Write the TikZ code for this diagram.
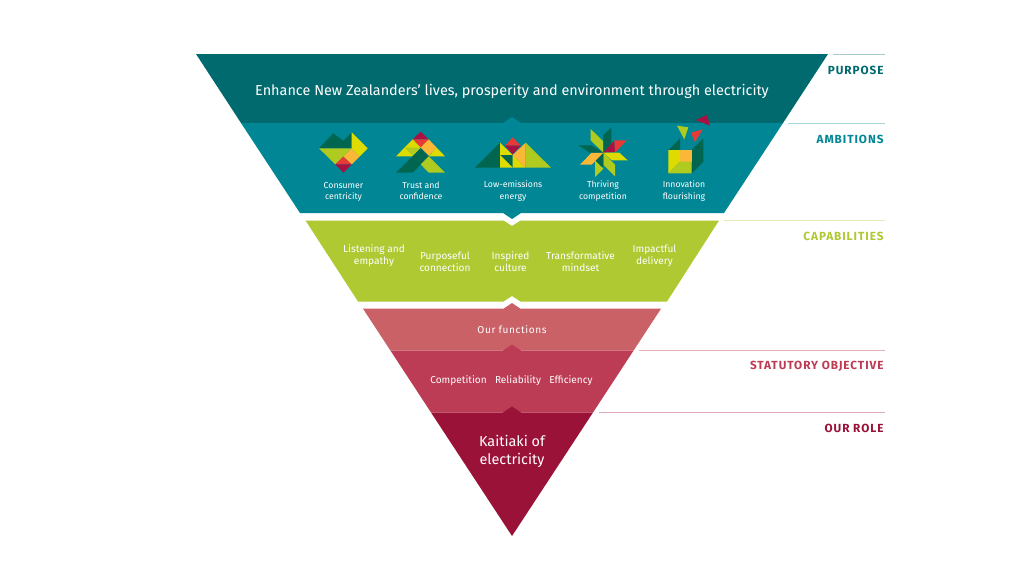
\documentclass[tikz,border=0pt]{standalone}
\usepackage{fontspec}
\setmainfont{Fira Sans}
\newfontfamily\headfont{Fira Sans}[UprightFont=* Bold,LetterSpace=8]
\newfontfamily\spacedfont{Fira Sans}[LetterSpace=6]
\definecolor{cPurpose}{HTML}{006A6F}
\definecolor{cAmb}{HTML}{008694}
\definecolor{cCap}{HTML}{AFC932}
\definecolor{cFun}{HTML}{C96167}
\definecolor{cStat}{HTML}{BC3B55}
\definecolor{cRole}{HTML}{9B1239}
\definecolor{iDark}{HTML}{00664F}
\definecolor{iLime}{HTML}{B0CB1F}
\definecolor{iYel}{HTML}{DDDB00}
\definecolor{iOra}{HTML}{FBB737}
\definecolor{iRed}{HTML}{E73A37}
\definecolor{iCrim}{HTML}{A81242}
\tikzset{
  iconlabel/.style={text=white,align=center,font=\fontsize{8.7}{11.3}\selectfont},
  caplabel/.style={text=white,align=center,font=\fontsize{10.1}{12.2}\selectfont},
  midlabel/.style={text=white,align=center,font=\fontsize{10.1}{12}\selectfont},
  biglabel/.style={text=white,align=center,font=\fontsize{14.42}{17.5}\selectfont},
  sidelabel/.style={anchor=east,font=\fontsize{11.75}{12}\headfont},
  tick/.style={line width=0.8pt},
}
\begin{document}
\begin{tikzpicture}[x=1pt,y=-1pt]
\useasboundingbox (0,0) rectangle (1024,576);
\fill[white] (0,0) rectangle (1024,576);
% bands
\fill[cPurpose] (196,54) -- (828,54) -- (783,123) -- (241,123) -- cycle;
\fill[cAmb] (241,123) -- (503,123) -- (512,117) -- (521,123) -- (783,123) -- (724,213) -- (521,213) -- (512,219) -- (503,213) -- (300,213) -- cycle;
\fill[cCap] (305.5,220.5) -- (503.5,220.5) -- (512,226) -- (520.5,220.5) -- (719,220.5) -- (667,301.5) -- (520.5,301.5) -- (512,296) -- (503.5,301.5) -- (358,301.5) -- cycle;
\fill[cFun] (363,308.7) -- (503.5,308.7) -- (512,303) -- (520.5,308.7) -- (661,308.7) -- (633.6,350.5) -- (390.4,350.5) -- cycle;
\fill[cStat] (390.4,350.5) -- (503,350.5) -- (512,344.5) -- (521,350.5) -- (633.6,350.5) -- (593,412.5) -- (431,412.5) -- cycle;
\fill[cRole] (431,412.5) -- (503,412.5) -- (512,406.5) -- (521,412.5) -- (593,412.5) -- (512,536) -- cycle;
% side rules
\draw[tick,cPurpose!35] (833,54.5) -- (885,54.5);
\draw[tick,cAmb!35] (788,123.5) -- (885,123.5);
\draw[tick,cCap!35] (724,220.5) -- (885,220.5);
\draw[tick,cStat!40] (639,350.5) -- (885,350.5);
\draw[tick,cRole!35] (599,412.5) -- (885,412.5);
% side labels
\node[sidelabel,text=cPurpose] (lPurpose) at (887,70.8) {PURPOSE};
\node[sidelabel,text=cAmb] (lAmb) at (887,139.8) {AMBITIONS};
\node[sidelabel,text=cCap] (lCap) at (887,236.8) {CAPABILITIES};
\node[sidelabel,text=cStat] (lStat) at (887,366.8) {STATUTORY OBJECTIVE};
\node[sidelabel,text=cRole] (lRole) at (887,428.8) {OUR ROLE};
% main text
\node[biglabel] (tPurpose) at (512,91) {Enhance New Zealanders’ lives, prosperity and environment through electricity};
\node[iconlabel] (a1) at (343.5,192) {Consumer\\centricity};
\node[iconlabel] (a2) at (421,190.5) {Trust and\\confidence};
\node[iconlabel] (a3) at (513,191) {Low-emissions\\energy};
\node[iconlabel] (a4) at (603,191) {Thriving\\competition};
\node[iconlabel] (a5) at (684,191) {Innovation\\flourishing};
\node[caplabel] (c1) at (374,256) {Listening and\\empathy};
\node[caplabel] (c2) at (445,262) {Purposeful\\connection};
\node[caplabel] (c3) at (510.5,262) {Inspired\\culture};
\node[caplabel] (c4) at (580.5,262) {Transformative\\mindset};
\node[caplabel] (c5) at (654.5,256) {Impactful\\delivery};
\node[midlabel,font=\fontsize{10.1}{12}\spacedfont] (f1) at (512,329.5) {Our functions};
\node[midlabel] (s1) at (458.5,381) {Competition};
\node[midlabel] (s2) at (518,381) {Reliability};
\node[midlabel] (s3) at (571,381) {Efficiency};
\node[biglabel] (r1) at (512,451.5) {Kaitiaki of\\electricity};
% icon 1
\begin{scope}[shift={(310,125)},scale=1/3]
\fill[iDark] (27,70) -- (70,25) -- (100,47) -- (125,22) -- (125,70) -- cycle;
\fill[iYel] (125,22) -- (173,70) -- (148,95) -- (125,70) -- cycle;
\fill[iLime] (27,70) -- (125,70) -- (100,95) -- (76,118) -- cycle;
\fill[iOra] (125,70) -- (148,95) -- (125,118) -- (100,95) -- cycle;
\fill[iRed] (100,95) -- (125,118) -- (76,118) -- cycle;
\fill[iCrim] (76,118) -- (125,118) -- (100,143) -- cycle;
\end{scope}
% icon 2
\begin{scope}[shift={(390,125)},scale=1/3]
\fill[iCrim] (68,43) -- (92,20) -- (116,43) -- cycle;
\fill[iRed] (68,43) -- (116,43) -- (92,68) -- cycle;
\fill[iYel] (68,43) -- (92,68) -- (68,94) -- (18,94) -- cycle;
\fill[iLime] (45,68) -- (92,68) -- (68,92) -- cycle;
\fill[iOra] (116,43) -- (140,68) -- (116,92) -- (92,68) -- cycle;
\fill[iYel] (140,68) -- (165,94) -- (116,94) -- cycle;
\fill[iDark] (92,70) -- (116,94) -- (68,143) -- (18,143) -- cycle;
\fill[iLime] (116,94) -- (165,143) -- (116,143) -- (92,118) -- cycle;
\end{scope}
% icon 3
\begin{scope}[shift={(470,130)},scale=1/3]
\fill[iDark] (15,113) -- (90,38) -- (90,113) -- cycle;
\fill[iLime] (167,38) -- (243,113) -- (167,113) -- cycle;
\fill[iYel] (90,38) -- (128,75) -- (90,75) -- cycle;
\fill[iDark] (90,75) -- (128,75) -- (128,113) -- cycle;
\fill[iYel] (90,75) -- (128,113) -- (90,113) -- cycle;
\fill[iYel] (128,75) -- (167,113) -- (128,113) -- cycle;
\fill[iOra] (167,38) -- (128,75) -- (167,113) -- cycle;
\fill[iRed] (105,47) -- (128,22) -- (152,47) -- cycle;
\fill[iCrim] (105,47) -- (152,47) -- (128,73) -- cycle;
\end{scope}
% icon 4
\begin{scope}[shift={(570,122)},scale=1/3]
\fill[iLime] (62,21) -- (100,58) -- (100,92) -- (62,55) -- cycle;
\fill[iDark] (124,17) -- (124,64) -- (100,92) -- (100,39) -- cycle;
\fill[iCrim] (133,55) -- (135,90) -- (100,92) -- cycle;
\fill[iRed] (133,55) -- (170,55) -- (135,92) -- cycle;
\fill[iYel] (100,92) -- (148,92) -- (173,115) -- (125,115) -- cycle;
\fill[iLime] (100,92) -- (135,128) -- (135,163) -- (100,128) -- cycle;
\fill[iDark] (100,92) -- (100,130) -- (75,152) -- (75,115) -- cycle;
\fill[iLime] (75,115) -- (100,140) -- (75,165) -- cycle;
\fill[iOra] (65,92) -- (100,92) -- (65,128) -- (30,128) -- cycle;
\fill[iDark] (25,70) -- (65,70) -- (100,92) -- (60,92) -- cycle;
\end{scope}
% icon 5
\begin{scope}[shift={(655,110)},scale=1/3]
\fill[iDark] (40,120) -- (75,85) -- (75,120) -- cycle;
\fill[iDark] (110,120) -- (145,85) -- (145,155) -- (110,190) -- cycle;
\fill[iYel] (40,120) -- (75,120) -- (75,155) -- (40,190) -- cycle;
\fill[iOra] (75,120) -- (110,120) -- (110,155) -- (75,155) -- cycle;
\fill[iLime] (75,155) -- (110,155) -- (110,190) -- (40,190) -- cycle;
\fill[iLime] (66,47) -- (100,52) -- (88,88) -- cycle;
\fill[iRed] (108,68) -- (143,58) -- (120,97) -- cycle;
\fill[iCrim] (122,30) -- (156,15) -- (165,47) -- cycle;
\end{scope}
\end{tikzpicture}
\end{document}
